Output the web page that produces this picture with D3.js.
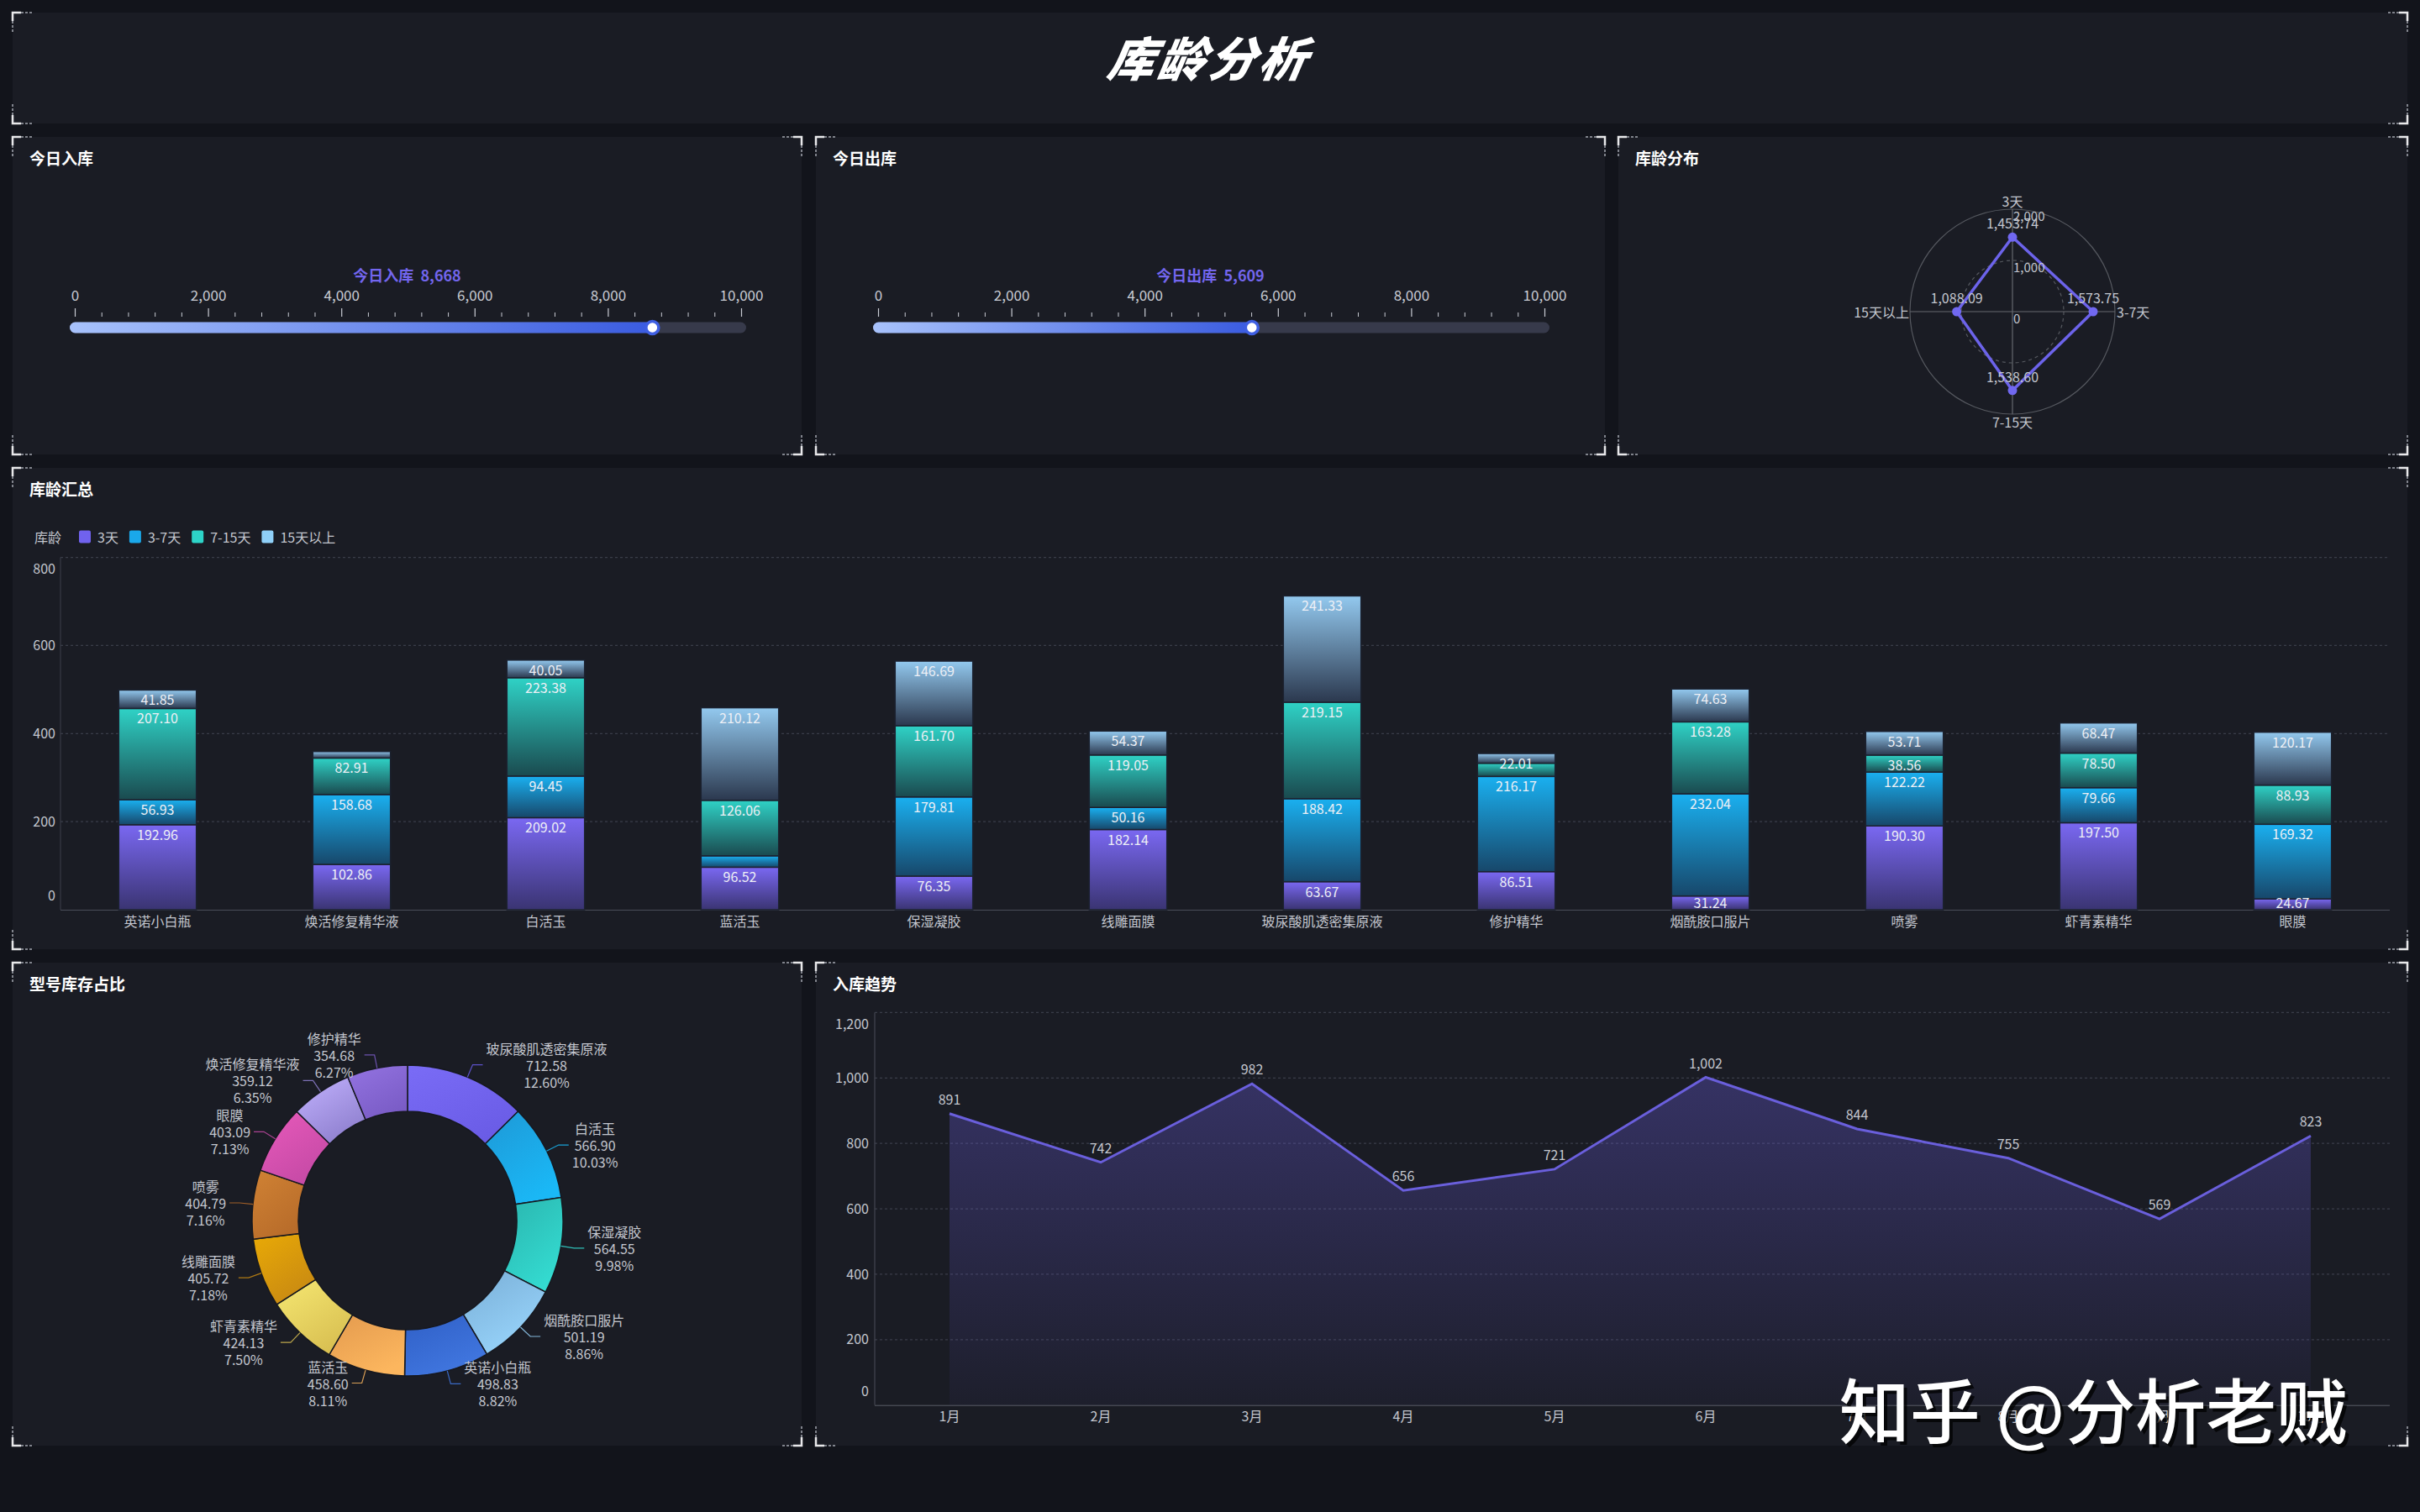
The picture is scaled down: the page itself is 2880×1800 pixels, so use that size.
<!DOCTYPE html>
<html><head><meta charset="utf-8">
<script src="https://cdn.jsdelivr.net/npm/d3@7"></script>
<style>
html,body{margin:0;padding:0;background:#12141b;}
svg{display:block;}
text{font-family:"Noto Sans CJK SC","Noto Sans",sans-serif;}
</style></head><body>
<svg id="c" width="2880" height="1800"></svg>
<script>
// ---------------- DATA ----------------
const pageTitle = '库龄分析';
const inToday = 8668;
const outToday = 5609;
const gaugeMajorTicks = [0, 2000, 4000, 6000, 8000, 10000];

const radarAxes = ['3天', '3-7天', '7-15天', '15天以上'];
const radarValues = [1453.74, 1573.75, 1538.60, 1088.09];
const radarTicks = [0, 1000, 2000];

const categories = ['英诺小白瓶', '焕活修复精华液', '白活玉', '蓝活玉', '保湿凝胶', '线雕面膜', '玻尿酸肌透密集原液', '修护精华', '烟酰胺口服片', '喷雾', '虾青素精华', '眼膜'];
const ageGroups = ['3天', '3-7天', '7-15天', '15天以上'];
const age3 = [192.96, 102.86, 209.02, 96.52, 76.35, 182.14, 63.67, 86.51, 31.24, 190.30, 197.50, 24.67];
const age3to7 = [56.93, 158.68, 94.45, 25.89, 179.81, 50.16, 188.42, 216.17, 232.04, 122.22, 79.66, 169.32];
const age7to15 = [207.10, 82.91, 223.38, 126.06, 161.70, 119.05, 219.15, 29.98, 163.28, 38.56, 78.50, 88.93];
const age15plus = [41.85, 14.69, 40.05, 210.12, 146.69, 54.37, 241.33, 22.01, 74.63, 53.71, 68.47, 120.17];
const barTicks = [0, 200, 400, 600, 800];

const pieNames = ['玻尿酸肌透密集原液', '白活玉', '保湿凝胶', '烟酰胺口服片', '英诺小白瓶', '蓝活玉', '虾青素精华', '线雕面膜', '喷雾', '眼膜', '焕活修复精华液', '修护精华'];
const pieValues = [712.58, 566.90, 564.55, 501.19, 498.83, 458.60, 424.13, 405.72, 404.79, 403.09, 359.12, 354.68];

const months = ['1月', '2月', '3月', '4月', '5月', '6月', '7月', '8月', '9月', '10月'];
const inbound = [891, 742, 982, 656, 721, 1002, 844, 755, 569, 823];
const lineTicks = [0, 200, 400, 600, 800, 1000, 1200];

const watermark = '知乎 @分析老贼';

// ---------------- STYLE ----------------
const PANEL_BG = '#1a1c24';
const TXT = '#c4c7cf';
const GRID = '#3a3d49';
const seriesColors = [
  ['#7a68f2', '#3a3472'],
  ['#1ab0f0', '#17476a'],
  ['#2fd2c6', '#1a4a4f'],
  ['#93c9ef', '#2b384e']
];
const legendColors = ['#7062ee', '#1aa8ea', '#2dd4c8', '#8fd0f8'];
const pieColors = [
  ['#7a6cf6', '#6a5ce6'], ['#1e98d6', '#1ab8f6'], ['#2ab5ae', '#34dbd1'],
  ['#79aed6', '#98d4fb'], ['#2f5fc6', '#4177e0'], ['#e39a4e', '#fcb65e'],
  ['#f6e872', '#d9c052'], ['#e9aa06', '#c98a12'], ['#d08234', '#b86c2a'],
  ['#e85abb', '#c64aa6'], ['#c3b3ff', '#8f80cf'], ['#9474e2', '#7a5cc6']
];

const fmt2 = d3.format(',.2f');
const fmtInt = d3.format(',');

const svg = d3.select('#c');
const defs = svg.append('defs');

function linGrad(id, c1, c2, x2 = 0, y2 = 1) {
  const g = defs.append('linearGradient').attr('id', id)
    .attr('x1', 0).attr('y1', 0).attr('x2', x2).attr('y2', y2);
  g.append('stop').attr('offset', '0%').attr('stop-color', c1);
  g.append('stop').attr('offset', '100%').attr('stop-color', c2);
  return `url(#${id})`;
}

// page
svg.append('rect').attr('width', 2880).attr('height', 1800).attr('fill', '#12141b');

function panel(x, y, w, h, title) {
  const g = svg.append('g');
  g.append('rect').attr('x', x).attr('y', y).attr('width', w).attr('height', h).attr('fill', PANEL_BG);
  const corners = [[x, y, 1, 1], [x + w, y, -1, 1], [x, y + h, 1, -1], [x + w, y + h, -1, -1]];
  corners.forEach(([cx, cy, sx, sy]) => {
    g.append('path').attr('d', `M${cx + sx * 10},${cy} L${cx},${cy} L${cx},${cy + sy * 10}`)
      .attr('fill', 'none').attr('stroke', '#e8e8ea').attr('stroke-width', 2.5);
    g.append('path').attr('d', `M${cx + sx * 10},${cy} L${cx + sx * 24},${cy} M${cx},${cy + sy * 10} L${cx},${cy + sy * 24}`)
      .attr('fill', 'none').attr('stroke', '#80838c').attr('stroke-width', 2).attr('stroke-dasharray', '3,2');
  });
  if (title) {
    g.append('text').attr('x', x + 20).attr('y', y + 24).attr('dominant-baseline', 'central')
      .attr('fill', '#ffffff').attr('font-size', 19).attr('font-weight', 700).text(title);
  }
  return g;
}

// ---------------- TITLE ----------------
panel(15, 15, 2850, 132);
svg.append('text').attr('x', 1440).attr('y', 67).attr('text-anchor', 'middle').attr('dominant-baseline', 'central')
  .attr('fill', '#fff').attr('font-size', 56).attr('font-weight', 900).attr('font-style', 'italic')
  .attr('letter-spacing', 4).attr('transform', 'translate(1440,67) skewX(-10) translate(-1440,-67)')
  .text(pageTitle);

// ---------------- GAUGES ----------------
function gauge(px, py, value, label, gid) {
  const cx = px + 469.5;
  const s = d3.scaleLinear().domain([0, 10000]).range([cx - 395.5, cx + 397.5]);
  const g = svg.append('g');
  const barY = py + 227, barH = 13;
  const bx0 = cx - 401.5, bx1 = cx + 403.5;
  g.append('rect').attr('x', bx0).attr('y', barY - barH / 2).attr('width', bx1 - bx0).attr('height', barH)
    .attr('rx', barH / 2).attr('fill', '#373a4b');
  const fill = linGrad(gid, '#a8c2fb', '#3a5be0', 1, 0);
  defs.select('#' + gid).attr('gradientUnits', 'userSpaceOnUse')
    .attr('x1', bx0).attr('x2', s(value)).attr('y1', 0).attr('y2', 0);
  g.append('rect').attr('x', bx0).attr('y', barY - barH / 2).attr('width', s(value) - bx0).attr('height', barH)
    .attr('rx', barH / 2).attr('fill', fill);
  // ticks
  const tickBase = py + 214;
  const minor = d3.range(0, 10001, 400).filter(v => v % 2000 !== 0);
  const axMinor = d3.axisTop(s).tickValues(minor).tickSize(5).tickFormat('');
  const axMajor = d3.axisTop(s).tickValues(gaugeMajorTicks).tickSize(10).tickPadding(9).tickFormat(fmtInt);
  const a1 = g.append('g').attr('transform', `translate(0,${tickBase})`).call(axMinor);
  const a2 = g.append('g').attr('transform', `translate(0,${tickBase})`).call(axMajor);
  [a1, a2].forEach(a => {
    a.select('.domain').remove();
    a.selectAll('line').attr('stroke', '#c9ccd4').attr('stroke-width', 1.2);
  });
  a1.selectAll('line').attr('stroke-width', 1);
  a2.selectAll('text').attr('fill', '#c9ccd4').attr('font-size', 17).attr('font-family', '"Noto Sans CJK SC",sans-serif');
  // marker
  g.append('circle').attr('cx', s(value)).attr('cy', barY).attr('r', 7.5).attr('fill', '#fff')
    .attr('stroke', '#3f5fe2').attr('stroke-width', 3.5);
  g.append('text').attr('x', cx).attr('y', py + 164).attr('text-anchor', 'middle').attr('dominant-baseline', 'central')
    .attr('fill', '#7366ee').attr('font-size', 18).attr('font-weight', 700)
    .text(label + '  ' + fmtInt(value)).attr('xml:space', 'preserve');
}
panel(15, 163, 939, 378, '今日入库');
panel(971, 163, 939, 378, '今日出库');
panel(1926, 163, 939, 378, '库龄分布');
gauge(15, 163, inToday, '今日入库', 'gIn');
gauge(971, 163, outToday, '今日出库', 'gOut');

// ---------------- RADAR ----------------
(function () {
  const cx = 2395, cy = 371, R = 122;
  const r = d3.scaleLinear().domain([0, 2000]).range([0, R]);
  const g = svg.append('g').attr('transform', `translate(${cx},${cy})`);
  g.append('circle').attr('r', r(2000)).attr('fill', 'none').attr('stroke', '#55585f').attr('stroke-width', 1.2);
  g.append('circle').attr('r', r(1000)).attr('fill', 'none').attr('stroke', '#55585f').attr('stroke-width', 1.2).attr('stroke-dasharray', '4,4');
  g.append('line').attr('x1', -R).attr('x2', R).attr('stroke', '#66696f').attr('stroke-width', 1.2);
  g.append('line').attr('y1', -R).attr('y2', R).attr('stroke', '#66696f').attr('stroke-width', 1.2);
  const ang = i => i * Math.PI / 2;
  const line = d3.lineRadial().angle((d, i) => ang(i)).radius(d => r(d)).curve(d3.curveLinearClosed);
  g.append('path').attr('d', line(radarValues)).attr('fill', 'none').attr('stroke', '#6c63ea').attr('stroke-width', 3.5);
  radarValues.forEach((v, i) => {
    const x = Math.sin(ang(i)) * r(v), y = -Math.cos(ang(i)) * r(v);
    g.append('circle').attr('cx', x).attr('cy', y).attr('r', 5.5).attr('fill', '#7168f0');
    g.append('text').attr('x', x).attr('y', y - 17).attr('text-anchor', 'middle').attr('dominant-baseline', 'central')
      .attr('fill', TXT).attr('font-size', 16).text(fmt2(v));
  });
  radarTicks.forEach(t => {
    g.append('text').attr('x', 1).attr('y', -r(t) + 7).attr('dominant-baseline', 'central')
      .attr('fill', TXT).attr('font-size', 15).text(fmtInt(t));
  });
  const labPos = [[0, -R - 10, 'middle'], [R + 2, 0, 'start'], [0, R + 9, 'middle'], [-R - 1, 0, 'end']];
  radarAxes.forEach((a, i) => {
    g.append('text').attr('x', labPos[i][0]).attr('y', labPos[i][1]).attr('text-anchor', labPos[i][2])
      .attr('dominant-baseline', 'central').attr('fill', TXT).attr('font-size', 16).text(a);
  });
})();

// ---------------- STACKED BAR ----------------
panel(15, 557, 2850, 573, '库龄汇总');
(function () {
  const x0 = 72, x1 = 2844, yb = 1083, yt = 663.6;
  const x = d3.scaleBand().domain(categories).range([x0, x1]).paddingInner(0.6).paddingOuter(0.3);
  const y = d3.scaleLinear().domain([0, 800]).range([yb, yt]);
  const g = svg.append('g');
  // grid
  g.selectAll('.grid').data(barTicks.filter(t => t > 0)).join('line')
    .attr('x1', x0).attr('x2', x1).attr('y1', d => y(d)).attr('y2', d => y(d))
    .attr('stroke', GRID).attr('stroke-width', 1.2).attr('stroke-dasharray', '3,3');
  g.append('line').attr('x1', x0).attr('x2', x0).attr('y1', yt).attr('y2', yb).attr('stroke', '#3c3f4a');
  const ya = g.append('g').attr('transform', `translate(${x0},0)`)
    .call(d3.axisLeft(y).tickValues(barTicks).tickSize(0).tickPadding(6));
  ya.select('.domain').remove();
  ya.selectAll('text').attr('fill', TXT).attr('font-size', 16).attr('font-family', '"Noto Sans CJK SC",sans-serif')
    .attr('dy', d => d === 800 ? '1.15em' : d === 0 ? '-0.75em' : '0.32em');
  const xa = g.append('g').attr('transform', `translate(0,${yb})`).call(d3.axisBottom(x).tickSize(0).tickPadding(9));
  xa.select('.domain').attr('stroke', '#4a4d58').attr('d', `M${x0},0.5H${x1}`);
  xa.selectAll('text').attr('fill', TXT).attr('font-size', 16).attr('font-family', '"Noto Sans CJK SC",sans-serif');

  const rows = categories.map((c, i) => ({ cat: c, '3天': age3[i], '3-7天': age3to7[i], '7-15天': age7to15[i], '15天以上': age15plus[i] }));
  const stacked = d3.stack().keys(ageGroups)(rows);
  stacked.forEach((ser, si) => {
    const fill = linGrad('bar' + si, seriesColors[si][0], seriesColors[si][1]);
    g.selectAll('.s' + si).data(ser).join('rect')
      .attr('x', d => x(d.data.cat)).attr('width', x.bandwidth())
      .attr('y', d => y(d[1])).attr('height', d => y(d[0]) - y(d[1]))
      .attr('fill', fill).attr('stroke', '#1c2230').attr('stroke-width', 1.5);
  });
  // labels with overlap hiding
  categories.forEach((c, ci) => {
    let last = null;
    stacked.forEach((ser, si) => {
      const d = ser[ci];
      const ly = Math.min(y(d[1]) + 11, yb - 9);
      if (last !== null && last - ly < 16) return;
      last = ly;
      g.append('text').attr('x', x(c) + x.bandwidth() / 2).attr('y', ly).attr('text-anchor', 'middle')
        .attr('dominant-baseline', 'central').attr('fill', '#eef0f6').attr('font-size', 16)
        .text(fmt2(d[1] - d[0]));
    });
  });
  // legend
  const lg = svg.append('g');
  lg.append('text').attr('x', 41).attr('y', 639).attr('dominant-baseline', 'central').attr('fill', TXT).attr('font-size', 16).text('库龄');
  let lx = 94;
  ageGroups.forEach((a, i) => {
    lg.append('rect').attr('x', lx).attr('y', 631.5).attr('width', 14).attr('height', 15).attr('rx', 2).attr('fill', legendColors[i]);
    const t = lg.append('text').attr('x', lx + 22).attr('y', 639).attr('dominant-baseline', 'central')
      .attr('fill', TXT).attr('font-size', 16).text(a);
    lx = lx + 22 + t.node().getComputedTextLength() + 13;
  });
})();

// ---------------- DONUT ----------------
panel(15, 1146, 939, 575, '型号库存占比');
(function () {
  const cx = 485, cy = 1453, r0 = 130, r1 = 185;
  const total = d3.sum(pieValues);
  const data = pieNames.map((n, i) => ({ name: n, value: pieValues[i], i }));
  const arcs = d3.pie().sort(null).value(d => d.value)(data);
  const arc = d3.arc().innerRadius(r0).outerRadius(r1);
  const g = svg.append('g').attr('transform', `translate(${cx},${cy})`);
  arcs.forEach((a, i) => {
    const fill = linGrad('pie' + i, pieColors[i][0], pieColors[i][1], 0.6, 1);
    g.append('path').attr('d', arc(a)).attr('fill', fill).attr('stroke', '#16181f').attr('stroke-width', 1.5);
  });
  arcs.forEach((a, i) => {
    const mid = (a.startAngle + a.endAngle) / 2;
    const dx = Math.sin(mid), dy = -Math.cos(mid);
    const p0 = [dx * r1, dy * r1];
    const p1 = [dx * (r1 + 16), dy * (r1 + 16)];
    const right = dx >= 0;
    const p2 = [p1[0] + (right ? 12 : -12), p1[1]];
    g.append('path').attr('d', `M${p0}L${p1}L${p2}`).attr('fill', 'none')
      .attr('stroke', pieColors[i][1]).attr('stroke-width', 1.2).attr('opacity', 0.85);
    const lines = [a.data.name, fmt2(a.data.value), (a.data.value / total * 100).toFixed(2) + '%'];
    const tg = g.append('g');
    const texts = lines.map((l, k) => tg.append('text').attr('y', p2[1] + (k - 1) * 20)
      .attr('text-anchor', 'middle').attr('dominant-baseline', 'central')
      .attr('fill', TXT).attr('font-size', 16).text(l));
    const bw = d3.max(texts, t => t.node().getComputedTextLength());
    const bcx = right ? p2[0] + 4 + bw / 2 : p2[0] - 4 - bw / 2;
    texts.forEach(t => t.attr('x', bcx));
  });
})();

// ---------------- LINE / AREA ----------------
panel(971, 1146, 1894, 575, '入库趋势');
(function () {
  const x0 = 1041, x1 = 2844, yb = 1672.7, yt = 1205.4;
  const x = d3.scaleBand().domain(months).range([x0 - 1, x0 + 1799]);
  const y = d3.scaleLinear().domain([0, 1200]).range([yb, yt]);
  const cxm = m => x(m) + x.bandwidth() / 2;
  const g = svg.append('g');
  g.selectAll('.lgrid').data(lineTicks.filter(t => t > 0)).join('line')
    .attr('x1', x0).attr('x2', x1).attr('y1', d => y(d)).attr('y2', d => y(d))
    .attr('stroke', GRID).attr('stroke-width', 1.2).attr('stroke-dasharray', '3,3');
  g.append('line').attr('x1', x0).attr('x2', x0).attr('y1', yt).attr('y2', yb).attr('stroke', '#4a4d58');
  const ya = g.append('g').attr('transform', `translate(${x0},0)`)
    .call(d3.axisLeft(y).tickValues(lineTicks).tickSize(0).tickPadding(7).tickFormat(fmtInt));
  ya.select('.domain').remove();
  ya.selectAll('text').attr('fill', TXT).attr('font-size', 16).attr('font-family', '"Noto Sans CJK SC",sans-serif')
    .attr('dy', d => d === 1200 ? '1.2em' : d === 0 ? '-0.72em' : '0.32em');
  const xa = g.append('g').attr('transform', `translate(0,${yb})`).call(d3.axisBottom(x).tickSize(0).tickPadding(8));
  xa.select('.domain').attr('stroke', '#5a5d68').attr('d', `M${x0},0.5H${x1}`);
  xa.selectAll('text').attr('fill', TXT).attr('font-size', 16).attr('font-family', '"Noto Sans CJK SC",sans-serif');

  const top = y(d3.max(inbound));
  const ag = defs.append('linearGradient').attr('id', 'areaG').attr('gradientUnits', 'userSpaceOnUse')
    .attr('x1', 0).attr('x2', 0).attr('y1', top).attr('y2', yb);
  ag.append('stop').attr('offset', '0%').attr('stop-color', '#7062eb').attr('stop-opacity', 0.32);
  ag.append('stop').attr('offset', '100%').attr('stop-color', '#7062eb').attr('stop-opacity', 0.04);
  const area = d3.area().x((d, i) => cxm(months[i])).y0(yb).y1(d => y(d));
  const line = d3.line().x((d, i) => cxm(months[i])).y(d => y(d));
  g.append('path').attr('d', area(inbound)).attr('fill', 'url(#areaG)');
  g.append('path').attr('d', line(inbound)).attr('fill', 'none').attr('stroke', '#6a5fdc').attr('stroke-width', 3);
  inbound.forEach((v, i) => {
    g.append('text').attr('x', cxm(months[i])).attr('y', y(v) - 18).attr('text-anchor', 'middle')
      .attr('dominant-baseline', 'central').attr('fill', TXT).attr('font-size', 16).text(fmtInt(v));
  });
})();

// ---------------- WATERMARK ----------------
svg.append('text').attr('x', 2495).attr('y', 1679).attr('text-anchor', 'middle').attr('dominant-baseline', 'central')
  .attr('fill', 'rgba(0,0,0,0.75)').attr('font-size', 84).attr('font-weight', 500).text(watermark);
svg.append('text').attr('x', 2491).attr('y', 1675).attr('text-anchor', 'middle').attr('dominant-baseline', 'central')
  .attr('fill', '#ffffff').attr('font-size', 84).attr('font-weight', 500).text(watermark);
</script></body></html>
